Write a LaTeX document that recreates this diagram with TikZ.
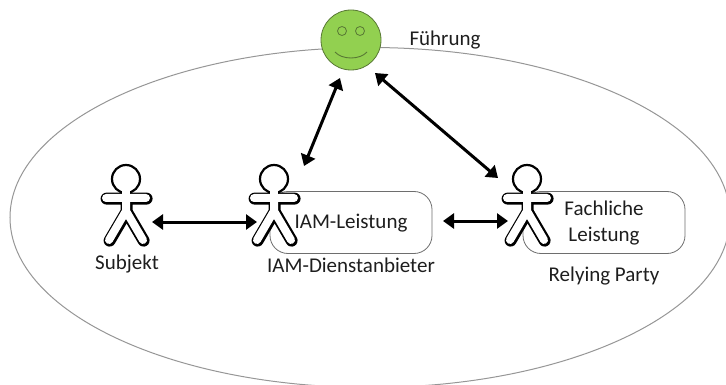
\documentclass[tikz,border=0pt]{standalone}
\usepackage{fontspec}
\usepackage{xcolor}
\usetikzlibrary{shapes.geometric,arrows.meta}
\setmainfont{Carlito}
\definecolor{smileygreen}{RGB}{146, 208, 80}
\definecolor{smileyline}{RGB}{88, 120, 52}
\definecolor{framegray}{RGB}{150, 150, 150}
\definecolor{boxgray}{RGB}{110, 110, 110}
\definecolor{labelblack}{RGB}{30, 30, 30}
\tikzset{
    person/.pic={
        \draw [line width=12pt, line cap=round, line join=round, shift={(0.6,0.6)}] (-20,19) -- (20,19) (0,19) -- (0,32) -- (-17,61) (0,32) -- (17,61);
        \draw [line width=8pt, line cap=round, line join=round, white] (-20,19) -- (20,19) (0,19) -- (0,32) -- (-17,61) (0,32) -- (17,61);
        \draw [line width=2.2pt, fill=white] (0,0) circle (14);
        \fill [white] (-4,10) rectangle (4,20);
    }
}
\begin{document}
\begin{tikzpicture}[x=1pt, y=-1pt, font=\fontsize{21pt}{26pt}\selectfont, text=labelblack]
    % Define styles
    \tikzstyle{frame} = [ellipse, draw=framegray, line width=1pt, minimum width=720pt, minimum height=340pt, inner sep=0pt]
    \tikzstyle{service} = [rectangle, rounded corners=18pt, minimum width=162pt, minimum height=62pt, draw=boxgray, line width=0.8pt, fill=white]
    \tikzstyle{face} = [circle, minimum size=60pt, inner sep=0pt, draw=smileyline, line width=0.8pt, fill=smileygreen]
    \tikzstyle{eye} = [circle, minimum size=9pt, inner sep=0pt, draw=smileyline, line width=0.8pt]
    \tikzstyle{arrow} = [line width=3pt, {Triangle[length=11pt,width=15pt]}-{Triangle[length=11pt,width=15pt]}]

    % Page
    \path [use as bounding box, clip] (0,0) rectangle (726,385);

    % Frame and smiley
    \node [frame] (frame) at (370,217.5) {};
    \node [face] (smiley) at (351,40) {};
    \node [eye] (eyeleft) at (342,31) {};
    \node [eye] (eyeright) at (360,31) {};
    \coordinate (smileleft) at (335,52);
    \coordinate (smileright) at (367,52);
    \draw [smileyline, line width=0.9pt] (smileleft) .. controls (342,60) and (360,60) .. (smileright);

    % Boxes
    \node [service] (iam) at (351,222.5) {};
    \node [service] (fach) at (604,222.5) {};

    % Persons
    \pic at (126,179) {person};
    \pic at (274,179) {person};
    \pic at (527,179) {person};

    % Labels
    \node (iamtext) at (351,223) {IAM-Leistung};
    \node [align=center] (fachtext) at (604,223.5) {Fachliche\\Leistung};
    \node (subjekt) at (127,264) {Subjekt};
    \node (anbieter) at (351,265) {IAM-Dienstanbieter};
    \node (relying) at (604,276) {Relying Party};
    \node (fuehrung) at (445,40) {Führung};

    % Arrow ends
    \coordinate (subjektright) at (152,222);
    \coordinate (iamleft) at (257,222);
    \coordinate (iamright) at (443,221);
    \coordinate (fachleft) at (508,221);
    \coordinate (iamtop) at (304,166);
    \coordinate (smileybottom) at (340,78);
    \coordinate (smileyright) at (375,73);
    \coordinate (fachtop) at (498,178);

    % Arrows
    \draw [arrow] (subjektright) -- (iamleft);
    \draw [arrow] (iamright) -- (fachleft);
    \draw [arrow] (iamtop) -- (smileybottom);
    \draw [arrow] (smileyright) -- (fachtop);
\end{tikzpicture}
\end{document}
